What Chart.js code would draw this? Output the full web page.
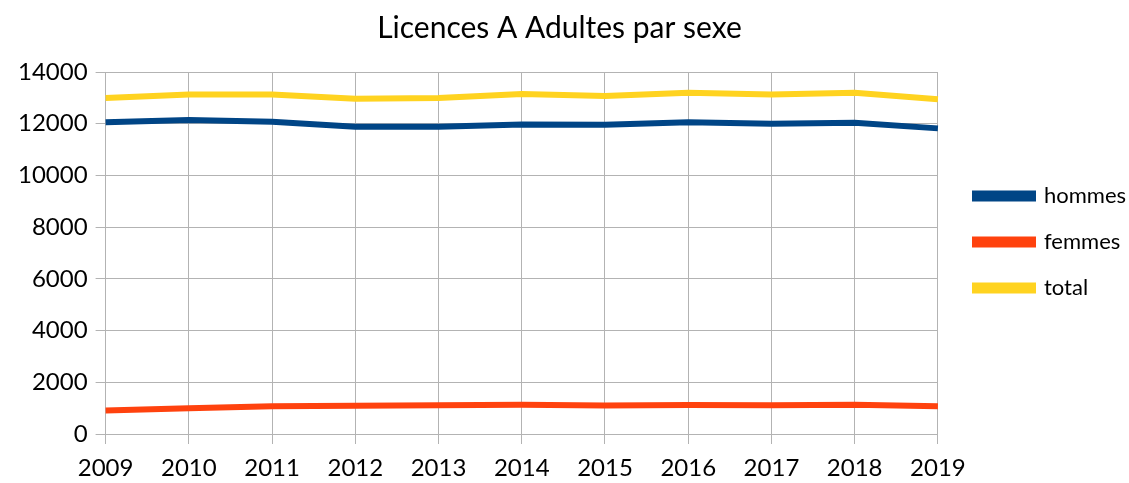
<!DOCTYPE html>
<html>
<head>
<meta charset="utf-8">
<script src="https://cdn.jsdelivr.net/npm/chart.js@4"></script>
<style>
  html, body { margin: 0; padding: 0; background: #fff; }
  #wrap { width: 1129px; height: 483px; position: relative; }
</style>
</head>
<body>
<div id="wrap"><canvas id="line-chart"></canvas></div>
<script>
// Données
const annees = ['2009', '2010', '2011', '2012', '2013', '2014', '2015', '2016', '2017', '2018', '2019'];
const hommes = [12060, 12140, 12080, 11880, 11880, 11970, 11960, 12060, 12000, 12040, 11820];
const femmes = [905, 995, 1075, 1090, 1110, 1135, 1100, 1125, 1110, 1135, 1075];
const total = [12990, 13130, 13130, 12965, 12990, 13150, 13070, 13200, 13130, 13200, 12950];
const yTicks = [0, 2000, 4000, 6000, 8000, 10000, 12000, 14000];

const police = 'Lato, "Open Sans", sans-serif';

function serie(label, valeurs, couleur) {
  return {
    label: label,
    data: valeurs,
    borderColor: couleur,
    backgroundColor: couleur,
    borderWidth: 6,
    pointRadius: 0,
    tension: 0
  };
}

// petits décalages du titre et de la légende
const ajustements = {
  id: 'ajustements',
  afterLayout(chart) {
    const lg = chart.legend;
    const w = lg.width;
    lg.left = 951; lg.right = lg.left + w;
    lg.top -= 7; lg.bottom -= 7;
    const t = chart.titleBlock;
    t.left -= 7; t.right -= 7;
  }
};

const config = {
  type: 'line',
  data: {
    labels: annees,
    datasets: [
      serie('hommes', hommes, '#004586'),
      serie('femmes', femmes, '#ff420e'),
      serie('total', total, '#ffd320')
    ]
  },
  options: {
    responsive: true,
    maintainAspectRatio: false,
    animation: false,
    layout: { padding: { left: 10, right: 6, top: 6, bottom: -9 } },
    plugins: {
      title: {
        display: true,
        text: 'Licences A Adultes par sexe',
        color: '#000',
        font: { family: police, size: 30, weight: 'normal' },
        padding: { top: 4, bottom: 26 }
      },
      legend: {
        position: 'right',
        labels: {
          color: '#000',
          font: { family: police, size: 22 },
          boxWidth: 58,
          boxHeight: 5,
          padding: 24
        }
      },
      tooltip: { enabled: false }
    },
    scales: {
      x: {
        type: 'category',
        offset: false,
        grid: { color: '#b3b3b3', tickLength: 10, drawTicks: true },
        border: { color: '#b3b3b3' },
        ticks: {
          color: '#000',
          font: { family: police, size: 24, lineHeight: 1 },
          maxRotation: 0,
          padding: 12
        }
      },
      y: {
        min: 0,
        max: 14000,
        afterBuildTicks: function(axis) {
          axis.ticks = yTicks.map(function(v) { return { value: v }; });
        },
        grid: { color: '#b3b3b3', tickLength: 10 },
        border: { color: '#b3b3b3' },
        ticks: {
          color: '#000',
          font: { family: police, size: 24 },
          padding: 8,
          callback: function(v) { return String(v); }
        }
      }
    }
  },
  plugins: [ajustements]
};

new Chart(document.getElementById('line-chart').getContext('2d'), config);
</script>
</body>
</html>
